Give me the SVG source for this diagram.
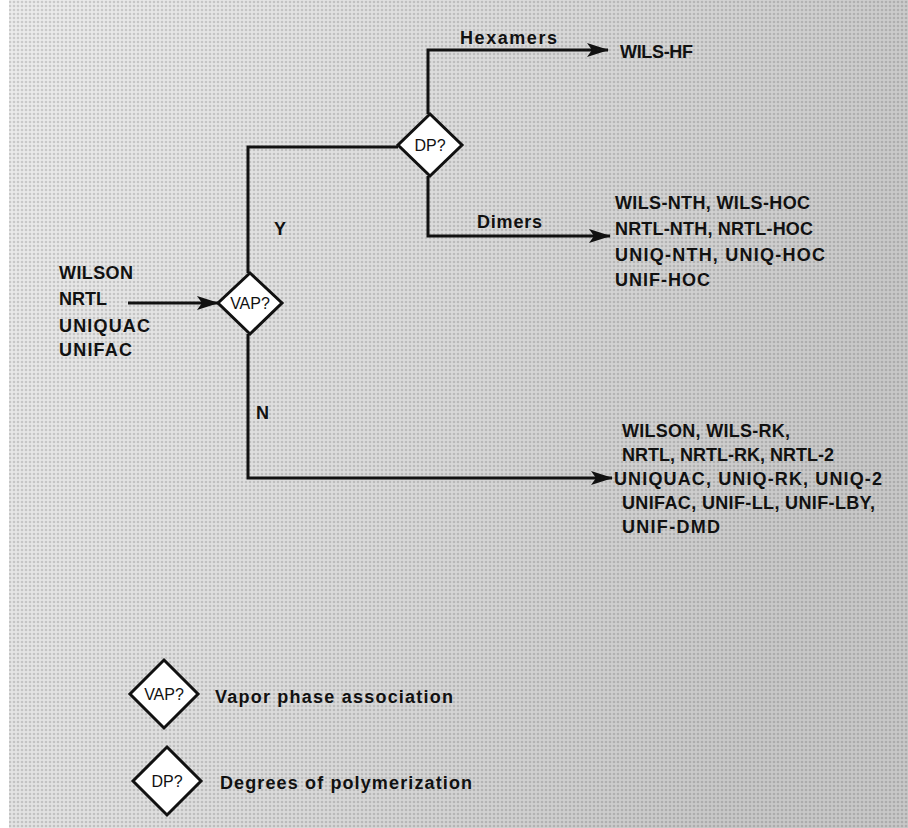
<svg xmlns="http://www.w3.org/2000/svg" width="908" height="828" viewBox="0 0 908 828">
<defs>
<linearGradient id="bg" x1="0" y1="0" x2="1" y2="0.3">
<stop offset="0" stop-color="#ececec"/>
<stop offset="0.5" stop-color="#dcdcdc"/>
<stop offset="1" stop-color="#c8c8c8"/>
</linearGradient>
<pattern id="dots" width="4" height="4" patternUnits="userSpaceOnUse">
<circle cx="2" cy="2" r="1.3" fill="#000" fill-opacity="0.14"/>
</pattern>
<marker id="arr" markerWidth="22" markerHeight="14" refX="21" refY="7" orient="auto" markerUnits="userSpaceOnUse">
<path d="M0,0 L22,7 L0,14 L5,7 Z" fill="#111"/>
</marker>
<style>
.ln{fill:none;stroke:#111;stroke-width:3;}
.dm{fill:#fff;stroke:#111;stroke-width:3;}
.t{font-family:"Liberation Sans",Arial,sans-serif;font-weight:bold;font-size:18px;fill:#111;}
.dt{font-family:"Liberation Sans",Arial,sans-serif;font-size:16px;fill:#111;text-anchor:middle;}
</style>
</defs>
<rect x="0" y="0" width="908" height="828" fill="url(#bg)"/>
<rect x="0" y="0" width="908" height="828" fill="url(#dots)"/>
<rect x="0" y="0" width="9" height="828" fill="#fff"/>

<g id="connectors">
<line class="ln" x1="128" y1="303" x2="218" y2="303" marker-end="url(#arr)"/>
<polyline class="ln" points="248,273 248,147 398,147"/>
<polyline class="ln" points="248,334 248,478 612,478" marker-end="url(#arr)"/>
<polyline class="ln" points="428,114 428,50 608,50" marker-end="url(#arr)"/>
<polyline class="ln" points="428,176 428,236 610,236" marker-end="url(#arr)"/>
</g>

<g id="labels">
<text class="t" x="274" y="235">Y</text>
<text class="t" x="256" y="419">N</text>
<text class="t" x="460" y="44" textLength="97">Hexamers</text>
<text class="t" x="477" y="228" textLength="65">Dimers</text>
</g>

<g id="inputs">
<text class="t" x="59" y="279" textLength="74">WILSON</text>
<text class="t" x="59" y="305">NRTL</text>
<text class="t" x="59" y="332" textLength="91">UNIQUAC</text>
<text class="t" x="59" y="356" textLength="73">UNIFAC</text>
</g>

<g id="vap">
<polygon class="dm" points="250,273 282,303 250,334 218,303"/>
<text class="dt" x="250" y="309">VAP?</text>
</g>

<g id="dp">
<polygon class="dm" points="430,114 462,145 430,176 398,145"/>
<text class="dt" x="430" y="151">DP?</text>
</g>

<g id="hexamers-out">
<text class="t" x="620" y="58" textLength="73">WILS-HF</text>
</g>

<g id="dimers-out">
<text class="t" x="615" y="209" textLength="195">WILS-NTH, WILS-HOC</text>
<text class="t" x="615" y="235" textLength="198">NRTL-NTH, NRTL-HOC</text>
<text class="t" x="615" y="261" textLength="210">UNIQ-NTH, UNIQ-HOC</text>
<text class="t" x="615" y="286" textLength="95">UNIF-HOC</text>
</g>

<g id="no-assoc-out">
<text class="t" x="622" y="437" textLength="168">WILSON, WILS-RK,</text>
<text class="t" x="622" y="461">NRTL, NRTL-RK, NRTL-2</text>
<text class="t" x="614" y="485" textLength="268">UNIQUAC, UNIQ-RK, UNIQ-2</text>
<text class="t" x="622" y="509" textLength="253">UNIFAC, UNIF-LL, UNIF-LBY,</text>
<text class="t" x="622" y="533" textLength="98">UNIF-DMD</text>
</g>

<g id="legend-vap">
<polygon class="dm" points="164,660 198,694 164,728 130,694"/>
<text class="dt" x="164" y="700">VAP?</text>
<text class="t" x="215" y="703" textLength="238">Vapor phase association</text>
</g>

<g id="legend-dp">
<polygon class="dm" points="167,747 201,781 167,815 133,781"/>
<text class="dt" x="167" y="787">DP?</text>
<text class="t" x="220" y="789" textLength="252">Degrees of polymerization</text>
</g>
</svg>
